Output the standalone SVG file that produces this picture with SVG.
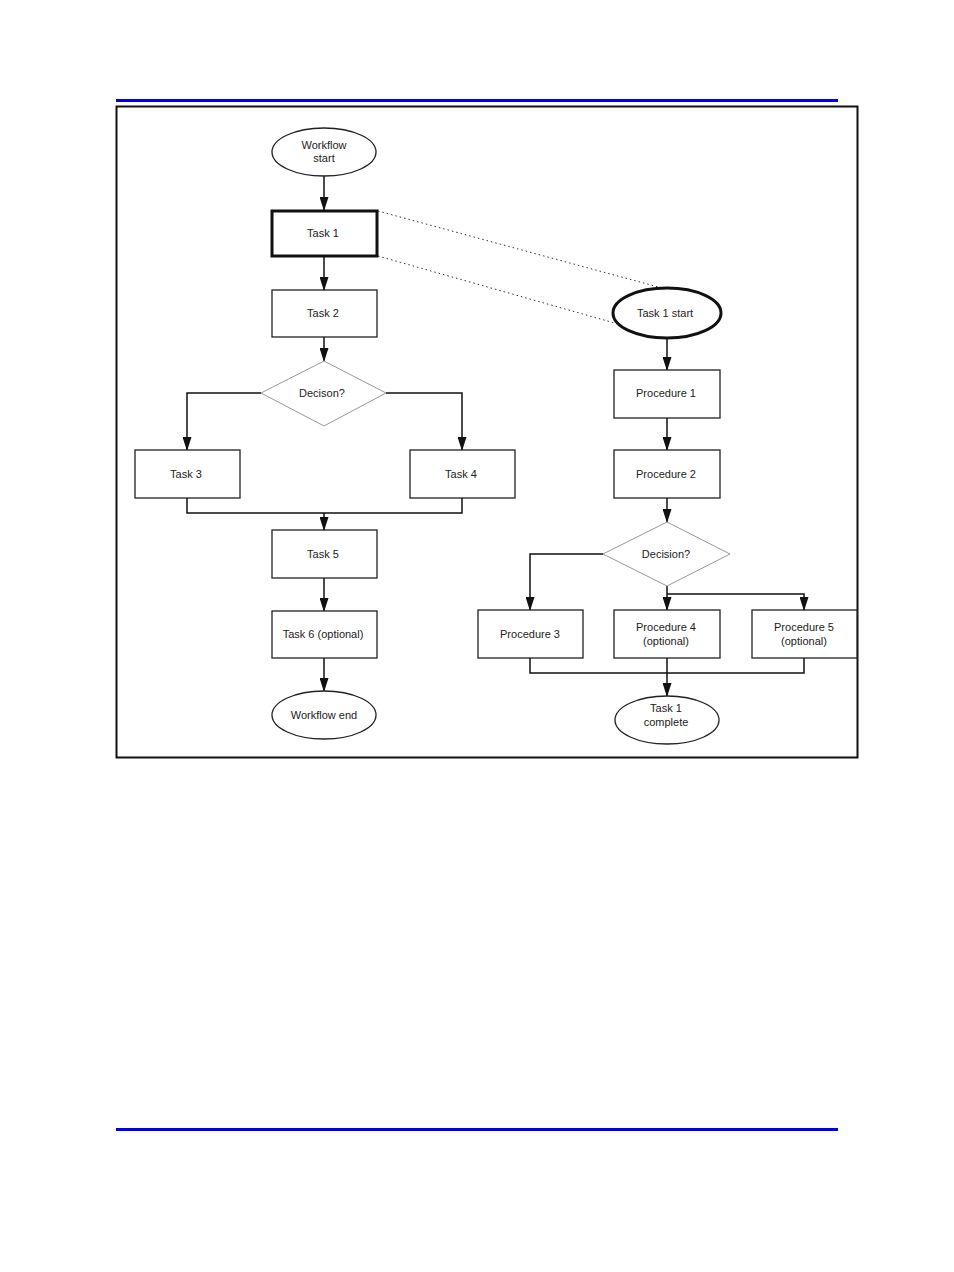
<svg xmlns="http://www.w3.org/2000/svg" width="954" height="1272" viewBox="0 0 954 1272">
<style>
.b{fill:#fff;stroke:#222;stroke-width:1.3}
.k{fill:#fff;stroke:#111;stroke-width:3}
.d{fill:#fff;stroke:#999;stroke-width:1}
.c{fill:none;stroke:#111;stroke-width:1.5}
text{font-family:"Liberation Sans",Arial,sans-serif;font-size:11px;fill:#222;text-anchor:middle}
</style>
<defs>
<marker id="m" markerWidth="14" markerHeight="9" refX="13" refY="4.5" orient="auto" markerUnits="userSpaceOnUse" viewBox="0 0 14 9"><path d="M0,0L14,4.5L0,9z" fill="#111"/></marker></defs>
<rect width="954" height="1272" fill="#fff"/>
<rect x="116" y="99" width="722" height="3" fill="#0000ee"/>
<rect x="116" y="1128" width="722" height="3" fill="#0000ee"/>
<rect x="116.5" y="106.5" width="741" height="651" fill="none" stroke="#111" stroke-width="2"/>
<g id="connectors">
<path class="c" marker-end="url(#m)" d="M324,176V210"/>
<path class="c" marker-end="url(#m)" d="M324,256V290"/>
<path class="c" marker-end="url(#m)" d="M324,337V361"/>
<path class="c" marker-end="url(#m)" d="M261,393H187V450"/>
<path class="c" marker-end="url(#m)" d="M386,393H462V450"/>
<path class="c" d="M187,498V513H462V498"/>
<path class="c" marker-end="url(#m)" d="M324,513V530"/>
<path class="c" marker-end="url(#m)" d="M324,578V611"/>
<path class="c" marker-end="url(#m)" d="M324,658V691"/>
<path fill="none" stroke="#333" stroke-width="1" stroke-dasharray="1.5,3" d="M378,211L662,288M378,256L618,324"/>
<path class="c" marker-end="url(#m)" d="M667,338V370"/>
<path class="c" marker-end="url(#m)" d="M667,418V450"/>
<path class="c" marker-end="url(#m)" d="M667,498V522"/>
<path class="c" marker-end="url(#m)" d="M603,554H530V610"/>
<path class="c" marker-end="url(#m)" d="M667,586V610"/>
<path class="c" marker-end="url(#m)" d="M667,594H804V610"/>
<path class="c" d="M530,658V673H804V658"/>
<path class="c" marker-end="url(#m)" d="M667,658V696"/>
</g>
<g id="wstart"><ellipse class="b" cx="324" cy="152" rx="52" ry="24"/><text x="324" y="149">Workflow</text><text x="324" y="162">start</text></g>
<g id="task1"><rect class="k" x="272" y="211" width="105" height="45"/><text x="323" y="237">Task 1</text></g>
<g id="task2"><rect class="b" x="272" y="290" width="105" height="47"/><text x="323" y="317">Task 2</text></g>
<g id="dec1"><path class="d" d="M324,361L386,393L324,426L261,393z"/><text x="322" y="397">Decison?</text></g>
<g id="task3"><rect class="b" x="135" y="450" width="105" height="48"/><text x="186" y="478">Task 3</text></g>
<g id="task4"><rect class="b" x="410" y="450" width="105" height="48"/><text x="461" y="478">Task 4</text></g>
<g id="task5"><rect class="b" x="272" y="530" width="105" height="48"/><text x="323" y="558">Task 5</text></g>
<g id="task6"><rect class="b" x="272" y="611" width="105" height="47"/><text x="323" y="638">Task 6 (optional)</text></g>
<g id="wend"><ellipse class="b" cx="324" cy="715" rx="52" ry="24"/><text x="324" y="719">Workflow end</text></g>
<g id="t1start"><ellipse class="k" cx="667" cy="313" rx="54" ry="25"/><text x="665" y="317">Task 1 start</text></g>
<g id="proc1"><rect class="b" x="614" y="370" width="106" height="48"/><text x="666" y="397">Procedure 1</text></g>
<g id="proc2"><rect class="b" x="614" y="450" width="106" height="48"/><text x="666" y="478">Procedure 2</text></g>
<g id="dec2"><path class="d" d="M667,522L730,554L667,586L603,554z"/><text x="666" y="558">Decision?</text></g>
<g id="proc3"><rect class="b" x="478" y="610" width="105" height="48"/><text x="530" y="638">Procedure 3</text></g>
<g id="proc4"><rect class="b" x="614" y="610" width="106" height="48"/><text x="666" y="631">Procedure 4</text><text x="666" y="645">(optional)</text></g>
<g id="proc5"><rect class="b" x="752" y="610" width="105" height="48"/><text x="804" y="631">Procedure 5</text><text x="804" y="645">(optional)</text></g>
<g id="t1complete"><ellipse class="b" cx="667" cy="720" rx="52" ry="24"/><text x="666" y="712">Task 1</text><text x="666" y="726">complete</text></g>
</svg>
